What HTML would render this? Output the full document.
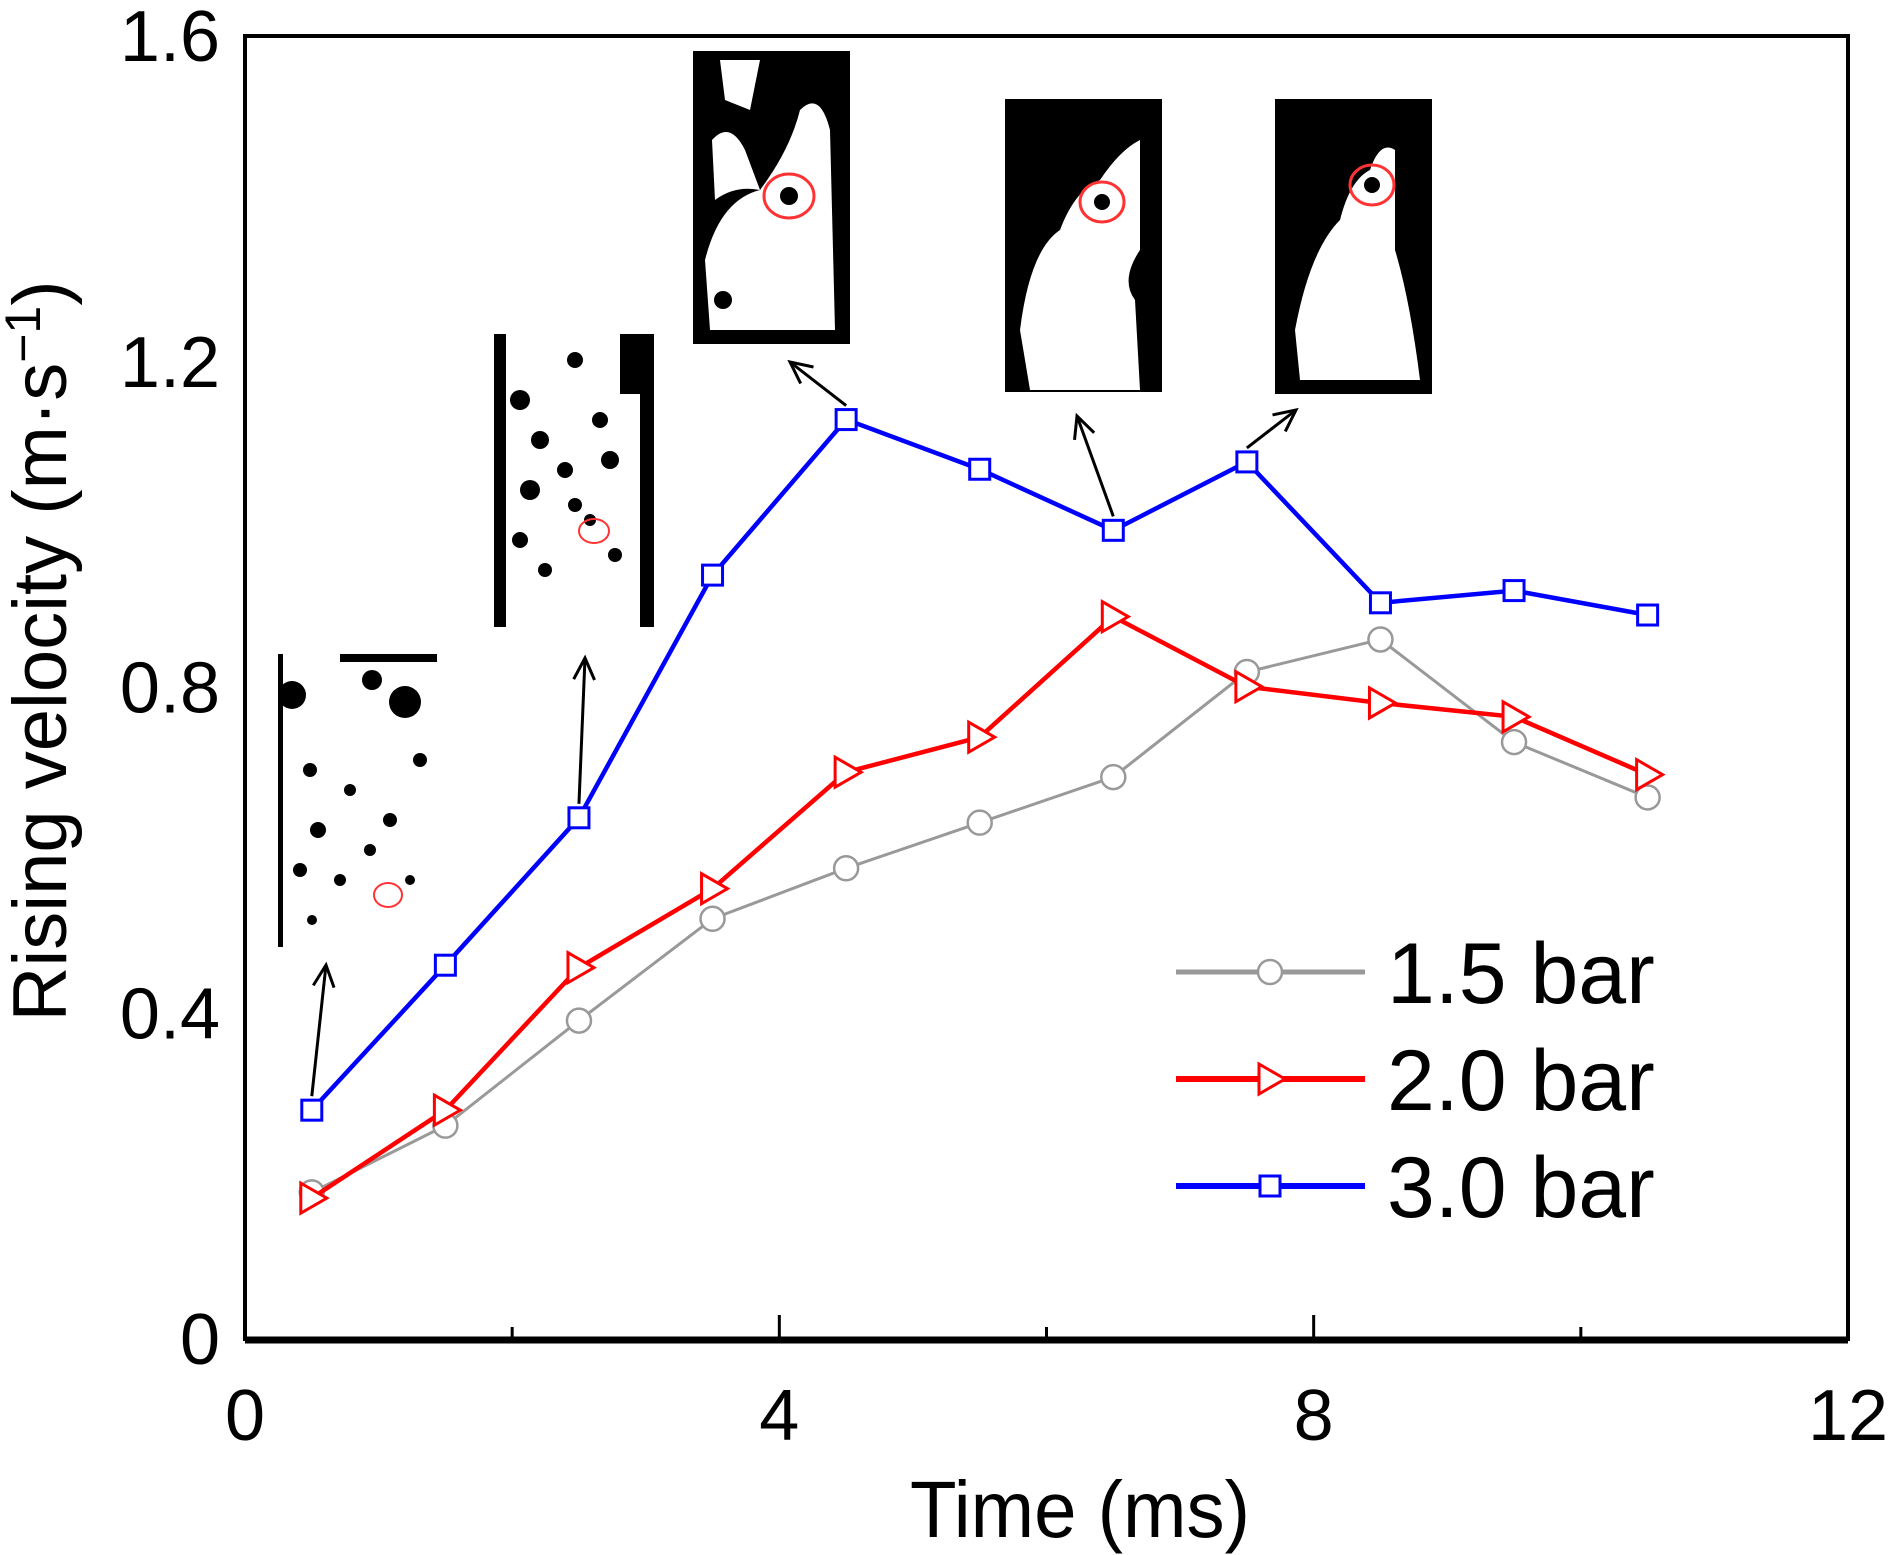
<!DOCTYPE html>
<html><head><meta charset="utf-8"><style>
html,body{margin:0;padding:0;background:#fff;}
svg{display:block;font-family:"Liberation Sans",Arial,sans-serif;}
</style></head><body>
<svg id="chart" width="1890" height="1555" viewBox="0 0 1890 1555">
<g id="insets">
  <g>
    <rect x="278" y="654" width="159" height="293" fill="#fff"/>
    <rect x="278" y="654" width="5" height="293" fill="#000"/>
    <circle cx="292" cy="695" r="14" fill="#000"/><circle cx="405" cy="702" r="16" fill="#000"/>
    <rect x="340" y="654" width="97" height="8" fill="#000"/>
    <circle cx="372" cy="680" r="10" fill="#000"/><circle cx="420" cy="760" r="7" fill="#000"/>
    <circle cx="310" cy="770" r="7" fill="#000"/><circle cx="350" cy="790" r="6" fill="#000"/>
    <circle cx="390" cy="820" r="7" fill="#000"/><circle cx="318" cy="830" r="8" fill="#000"/>
    <circle cx="300" cy="870" r="7" fill="#000"/><circle cx="370" cy="850" r="6" fill="#000"/>
    <circle cx="340" cy="880" r="6" fill="#000"/><circle cx="410" cy="880" r="5" fill="#000"/>
    <circle cx="312" cy="920" r="5" fill="#000"/>
    <ellipse cx="388" cy="895" rx="14" ry="12" fill="none" stroke="#f33" stroke-width="2"/>
  </g>
  <g>
    <rect x="494" y="334" width="160" height="293" fill="#fff"/>
    <rect x="494" y="334" width="12" height="293" fill="#000"/>
    <rect x="620" y="334" width="34" height="60" fill="#000"/>
    <rect x="640" y="334" width="14" height="293" fill="#000"/>
    <circle cx="520" cy="400" r="10" fill="#000"/><circle cx="575" cy="360" r="8" fill="#000"/>
    <circle cx="540" cy="440" r="9" fill="#000"/><circle cx="600" cy="420" r="8" fill="#000"/>
    <circle cx="530" cy="490" r="10" fill="#000"/><circle cx="565" cy="470" r="8" fill="#000"/>
    <circle cx="610" cy="460" r="9" fill="#000"/><circle cx="520" cy="540" r="8" fill="#000"/>
    <circle cx="575" cy="505" r="7" fill="#000"/><circle cx="615" cy="555" r="7" fill="#000"/>
    <circle cx="545" cy="570" r="7" fill="#000"/><circle cx="590" cy="520" r="6" fill="#000"/>
    <ellipse cx="594" cy="531" rx="15" ry="12" fill="none" stroke="#f33" stroke-width="2"/>
  </g>
  <g>
    <rect x="693" y="51" width="157" height="293" fill="#000"/>
    <path d="M705 260 Q720 200 760 190 Q790 150 800 110 Q820 90 830 130 L835 330 L710 330 Z" fill="#fff"/>
    <path d="M720 60 L760 60 L750 110 L725 100 Z" fill="#fff"/>
    <path d="M712 140 Q730 120 745 150 L760 190 Q735 185 715 200 Z" fill="#fff"/>
    <ellipse cx="789" cy="196" rx="25" ry="22" fill="none" stroke="#f33" stroke-width="3"/>
    <circle cx="789" cy="196" r="9" fill="#000"/>
    <circle cx="723" cy="300" r="9" fill="#000"/>
  </g>
  <g>
    <rect x="1005" y="99" width="157" height="293" fill="#000"/>
    <path d="M1020 330 Q1030 250 1060 230 Q1075 190 1100 180 Q1120 150 1140 140 L1140 250 Q1120 280 1135 300 L1140 390 L1030 390 Z" fill="#fff"/>
    <ellipse cx="1102" cy="202" rx="22" ry="20" fill="none" stroke="#f33" stroke-width="3"/>
    <circle cx="1102" cy="202" r="8" fill="#000"/>
  </g>
  <g>
    <rect x="1275" y="99" width="157" height="295" fill="#000"/>
    <path d="M1295 330 Q1310 250 1340 220 Q1350 180 1370 170 Q1380 140 1395 150 L1395 250 Q1410 300 1420 380 L1300 380 Z" fill="#fff"/>
    <ellipse cx="1372" cy="185" rx="22" ry="20" fill="none" stroke="#f33" stroke-width="3"/>
    <circle cx="1372" cy="185" r="8" fill="#000"/>
  </g>
</g>
<g id="arrows" stroke="#000" stroke-width="3" fill="none"></g>
<g id="series"></g>
<rect x="245" y="36" width="1603" height="1303" fill="none" stroke="#000" stroke-width="4"/>
<line x1="245" x2="1848" y1="1340" y2="1340" stroke="#000" stroke-width="7"/>
<g id="axes"></g>
<text x="1080" y="1537" font-size="80" text-anchor="middle" textLength="340" lengthAdjust="spacingAndGlyphs">Time (ms)</text>
<text transform="translate(66,651) rotate(-90)" font-size="76" text-anchor="middle">Rising velocity (m·s<tspan dy="-26" font-size="50">−1</tspan><tspan dy="26">)</tspan></text>
<g id="legend"></g>
</svg>
<script>
const times = [0.5,1.5,2.5,3.5,4.5,5.5,6.5,7.5,8.5,9.5,10.5];
const bar15 = [0.18,0.262,0.391,0.516,0.578,0.634,0.690,0.819,0.859,0.733,0.665];
const bar20 = [0.173,0.281,0.456,0.553,0.696,0.739,0.887,0.801,0.781,0.764,0.693];
const bar30 = [0.281,0.459,0.640,0.938,1.129,1.068,0.993,1.077,0.904,0.919,0.889];
const xTicks = [0,4,8,12];
const xMinor = [2,6,10];
const yTicks = [0,0.4,0.8,1.2,1.6];
const yTickLabels = ["0","0.4","0.8","1.2","1.6"];
const legendLabels = ["1.5 bar","2.0 bar","3.0 bar"];

const NS="http://www.w3.org/2000/svg";
const X0=245,X1=1848,Y0=1339,Y1=36;
const sx=v=>X0+(v/12)*(X1-X0);
const sy=v=>Y0-(v/1.6)*(Y0-Y1);
function mk(tag,attrs,parent){const e=document.createElementNS(NS,tag);for(const k in attrs)e.setAttribute(k,attrs[k]);parent.appendChild(e);return e;}
const axes=document.getElementById('axes');
xTicks.forEach(t=>{
  const l=mk('line',{x1:sx(t),x2:sx(t),y1:Y0,y2:Y0-24,stroke:'#000','stroke-width':3},axes);
  
  
  const tx=mk('text',{x:sx(t),y:1440,'font-size':72,'text-anchor':'middle'},axes);
  tx.textContent=String(t);
  
  
});
xMinor.forEach(t=>{
  const l=mk('line',{x1:sx(t),x2:sx(t),y1:Y0,y2:Y0-12,stroke:'#000','stroke-width':3},axes);
  
  
});
yTicks.forEach((t,i)=>{
  const tx=mk('text',{x:220,y:sy(t)+25,'font-size':72,'text-anchor':'end'},axes);
  tx.textContent=yTickLabels[i];
  
  
});
const ser=document.getElementById('series');
function marker(kind,x,y,color,g){
  let m;
  if(kind==='circle') m=mk('circle',{cx:x,cy:y,r:12,fill:'#fff',stroke:color,'stroke-width':2.5},g);
  else if(kind==='tri') m=mk('polygon',{points:`${x-11},${y-15} ${x+15},${y} ${x-11},${y+15}`,fill:'#fff',stroke:color,'stroke-width':3},g);
  else m=mk('rect',{x:x-10,y:y-10,width:20,height:20,fill:'#fff',stroke:color,'stroke-width':3},g);
  return m;
}
const defs=[[bar15,'#999','circle',3,'series-1-5-bar'],[bar20,'#ff0000','tri',4.5,'series-2-0-bar'],[bar30,'#0000ff','square',4.5,'series-3-0-bar']];
defs.forEach(([vals,c,k,w,name])=>{
  const g=mk('g',{},ser);
  
  
  const p=mk('polyline',{points:times.map((t,i)=>sx(t)+','+sy(vals[i])).join(' '),fill:'none',stroke:c,'stroke-width':w},g);
  
  
  times.forEach((t,i)=>{
    const m=marker(k,sx(t),sy(vals[i]),c,g);
    
    
  });
});
const arr=document.getElementById('arrows');
const arrowSpecs=[[0,bar30,326,965],[2,bar30,585,658],[4,bar30,790,362],[6,bar30,1077,416],[7,bar30,1296,410]];
arrowSpecs.forEach(([i,vals,tx,ty])=>{
  const x=sx(times[i]),y=sy(vals[i])-14;
  const g=mk('g',{},arr);
  
  
  mk('line',{x1:x,y1:y,x2:tx,y2:ty},g);
  const a=Math.atan2(ty-y,tx-x),L=24;
  mk('polyline',{points:`${tx-L*Math.cos(a-0.45)},${ty-L*Math.sin(a-0.45)} ${tx},${ty} ${tx-L*Math.cos(a+0.45)},${ty-L*Math.sin(a+0.45)}`},g);
});
const lg=document.getElementById('legend');
const lc=[['#999','circle',3],['#ff0000','tri',4],['#0000ff','square',4]];
lc.forEach(([c,k,w],i)=>{
  const y=972+i*107;
  const g=mk('g',{},lg);
  
  
  mk('line',{x1:1176,x2:1365,y1:y,y2:y,stroke:c,'stroke-width':w+2},g);
  marker(k,1270,y,c,g);
  const t=mk('text',{x:1387,y:y+31,'font-size':86},g);
  t.textContent=legendLabels[i];
});
</script>
</body></html>
